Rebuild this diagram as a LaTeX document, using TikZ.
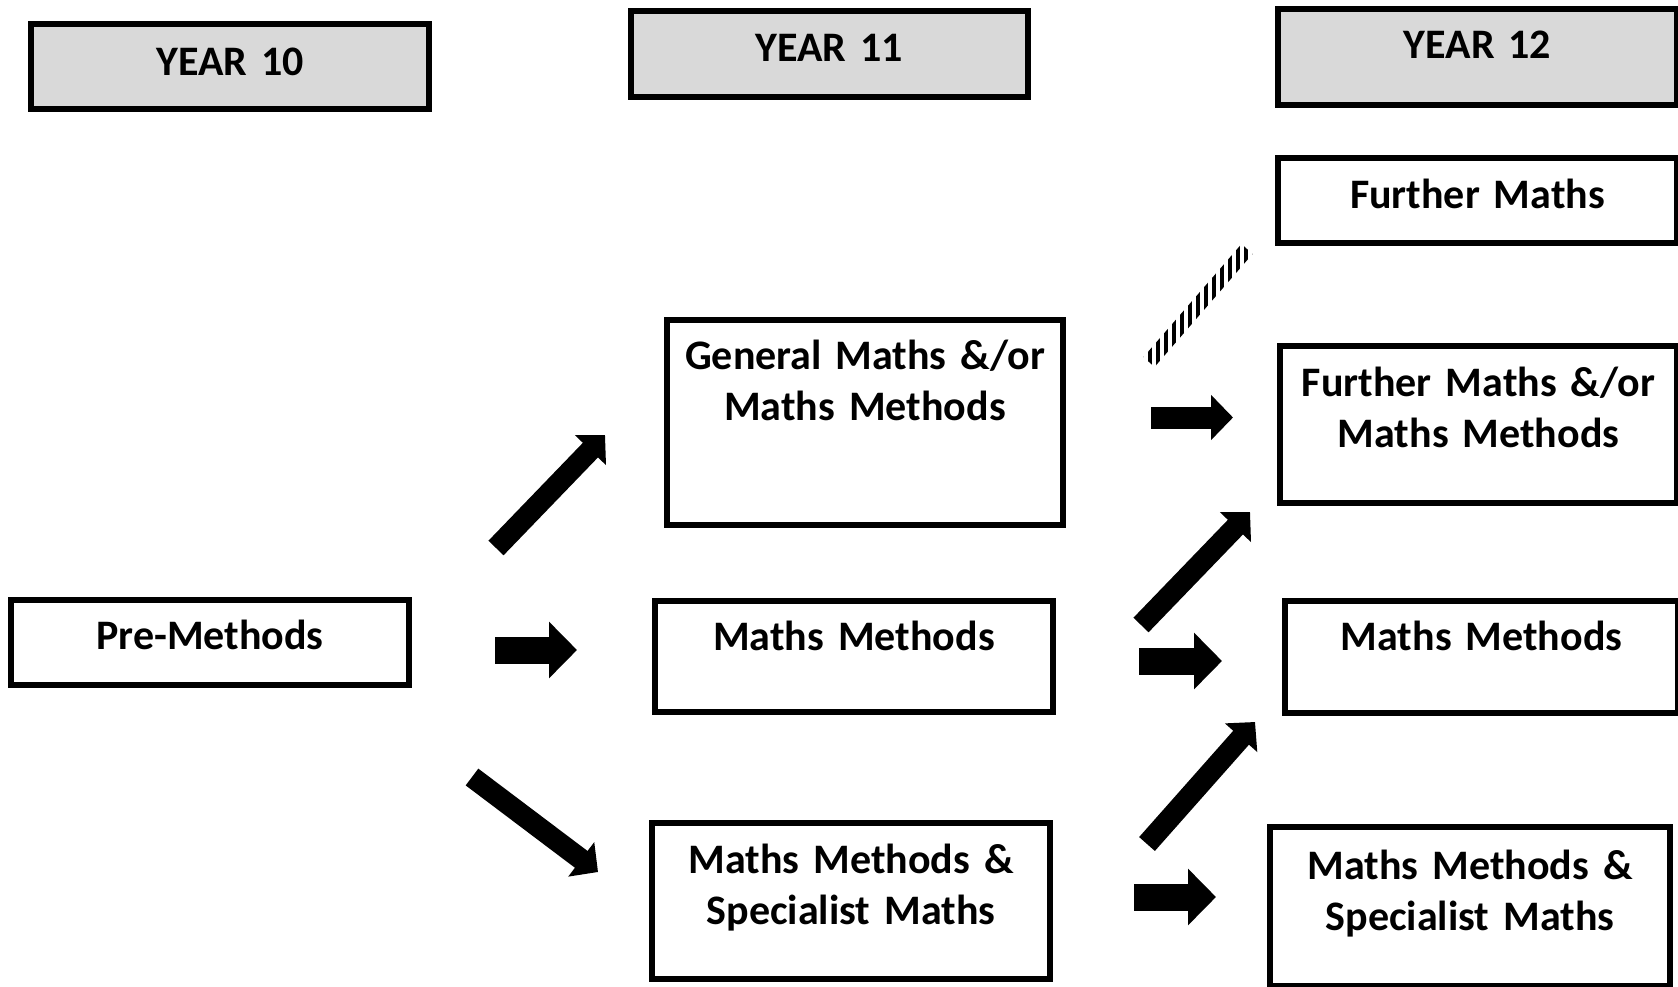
\documentclass[tikz,border=0pt]{standalone}
\usepackage{fontspec}
\setmainfont{Carlito}
\usetikzlibrary{arrows.meta}
\definecolor{hdrgray}{RGB}{217,217,217}
\begin{document}
\begin{tikzpicture}[x=1pt,y=-1pt,
  box/.style={draw, line width=6pt, inner sep=0pt, fill=white},
  yearbox/.style={box, fill=hdrgray},
  lbl/.style={font=\fontsize{42}{51}\selectfont\bfseries, align=center, text width=430pt, inner sep=0pt, anchor=base},
  bigarrow/.style={line width=27pt, -{Triangle[length=28pt,width=55pt]}},
  midarrow/.style={line width=22pt, -{Triangle[length=22pt,width=44pt]}},
  smallarrow/.style={line width=21pt, -{Triangle[length=21pt,width=42pt]}},
]
\useasboundingbox (0,0) rectangle (1678,987);

% header boxes
\node[yearbox, minimum width=398pt, minimum height=85pt] (y10) at (230,66.5) {};
\node[yearbox, minimum width=397pt, minimum height=86pt] (y11) at (829,54) {};
\node[yearbox, minimum width=399pt, minimum height=96pt] (y12) at (1477.5,57) {};
\node[lbl] (y10t) at ([yshift=-54.5pt]y10.north) {YEAR 10};
\node[lbl] (y11t) at ([yshift=-54pt]y11.north) {YEAR 11};
\node[lbl] (y12t) at ([yshift=-53pt]y12.north) {YEAR 12};

% year 10
\node[box, minimum width=398pt, minimum height=85pt] (pre) at (210,642.5) {};
\node[lbl] (pret) at ([yshift=-52pt]pre.north) {Pre-Methods};

% year 11
\node[box, minimum width=396pt, minimum height=205pt] (gen) at (865,422) {};
\node[lbl] (gent) at ([yshift=-53pt]gen.north) {General Maths \&/or\\Maths Methods};
\node[box, minimum width=398pt, minimum height=111pt] (mm11) at (854,656.5) {};
\node[lbl] (mm11t) at ([yshift=-52.5pt]mm11.north) {Maths Methods};
\node[box, minimum width=398pt, minimum height=156pt] (ms11) at (851,900.5) {};
\node[lbl] (ms11t) at ([yshift=-53.5pt]ms11.north) {Maths Methods \&\\Specialist Maths};

% year 12
\node[box, minimum width=399pt, minimum height=85pt] (fm12) at (1477.5,200.5) {};
\node[lbl] (fm12t) at ([yshift=-53pt]fm12.north) {Further Maths};
\node[box, minimum width=397pt, minimum height=157pt] (fo12) at (1478.5,424) {};
\node[lbl] (fo12t) at ([yshift=-53.5pt]fo12.north) {Further Maths \&/or\\Maths Methods};
\node[box, minimum width=393pt, minimum height=112pt] (mm12) at (1481.5,657) {};
\node[lbl] (mm12t) at ([yshift=-52.5pt]mm12.north) {Maths Methods};
\node[box, minimum width=400pt, minimum height=159pt] (ms12) at (1470,906.5) {};
\node[lbl] (ms12t) at ([yshift=-55.5pt]ms12.north) {Maths Methods \&\\Specialist Maths};

% arrow end points
\coordinate (a1s) at (495,650);   \coordinate (a1e) at (577,650);
\coordinate (a2s) at (1151,417.5);\coordinate (a2e) at (1233,417.5);
\coordinate (a3s) at (1139,661);  \coordinate (a3e) at (1222,661);
\coordinate (a4s) at (1134,897);  \coordinate (a4e) at (1216,897);
\coordinate (d1s) at (496,548);   \coordinate (d1e) at (605,435);
\coordinate (d2s) at (472,777);   \coordinate (d2e) at (598,872);
\coordinate (d3s) at (1141,625);  \coordinate (d3e) at (1250,512);
\coordinate (d4s) at (1147,844);  \coordinate (d4e) at (1255,722);

\draw[bigarrow] (a1s) -- (a1e);
\draw[midarrow] (a2s) -- (a2e);
\draw[bigarrow] (a3s) -- (a3e);
\draw[bigarrow] (a4s) -- (a4e);
\draw[smallarrow] (d1s) -- (d1e);
\draw[smallarrow] (d2s) -- (d2e);
\draw[smallarrow] (d3s) -- (d3e);
\draw[smallarrow] (d4s) -- (d4e);

% hatched band
\begin{scope}
  \clip (1154.5,367) -- (1252.5,254) -- (1241.5,244) -- (1143.5,357) -- cycle;
  \foreach \x in {1140,1148,...,1256} \fill (\x,235) rectangle (\x+4,380);
\end{scope}
\end{tikzpicture}
\end{document}
